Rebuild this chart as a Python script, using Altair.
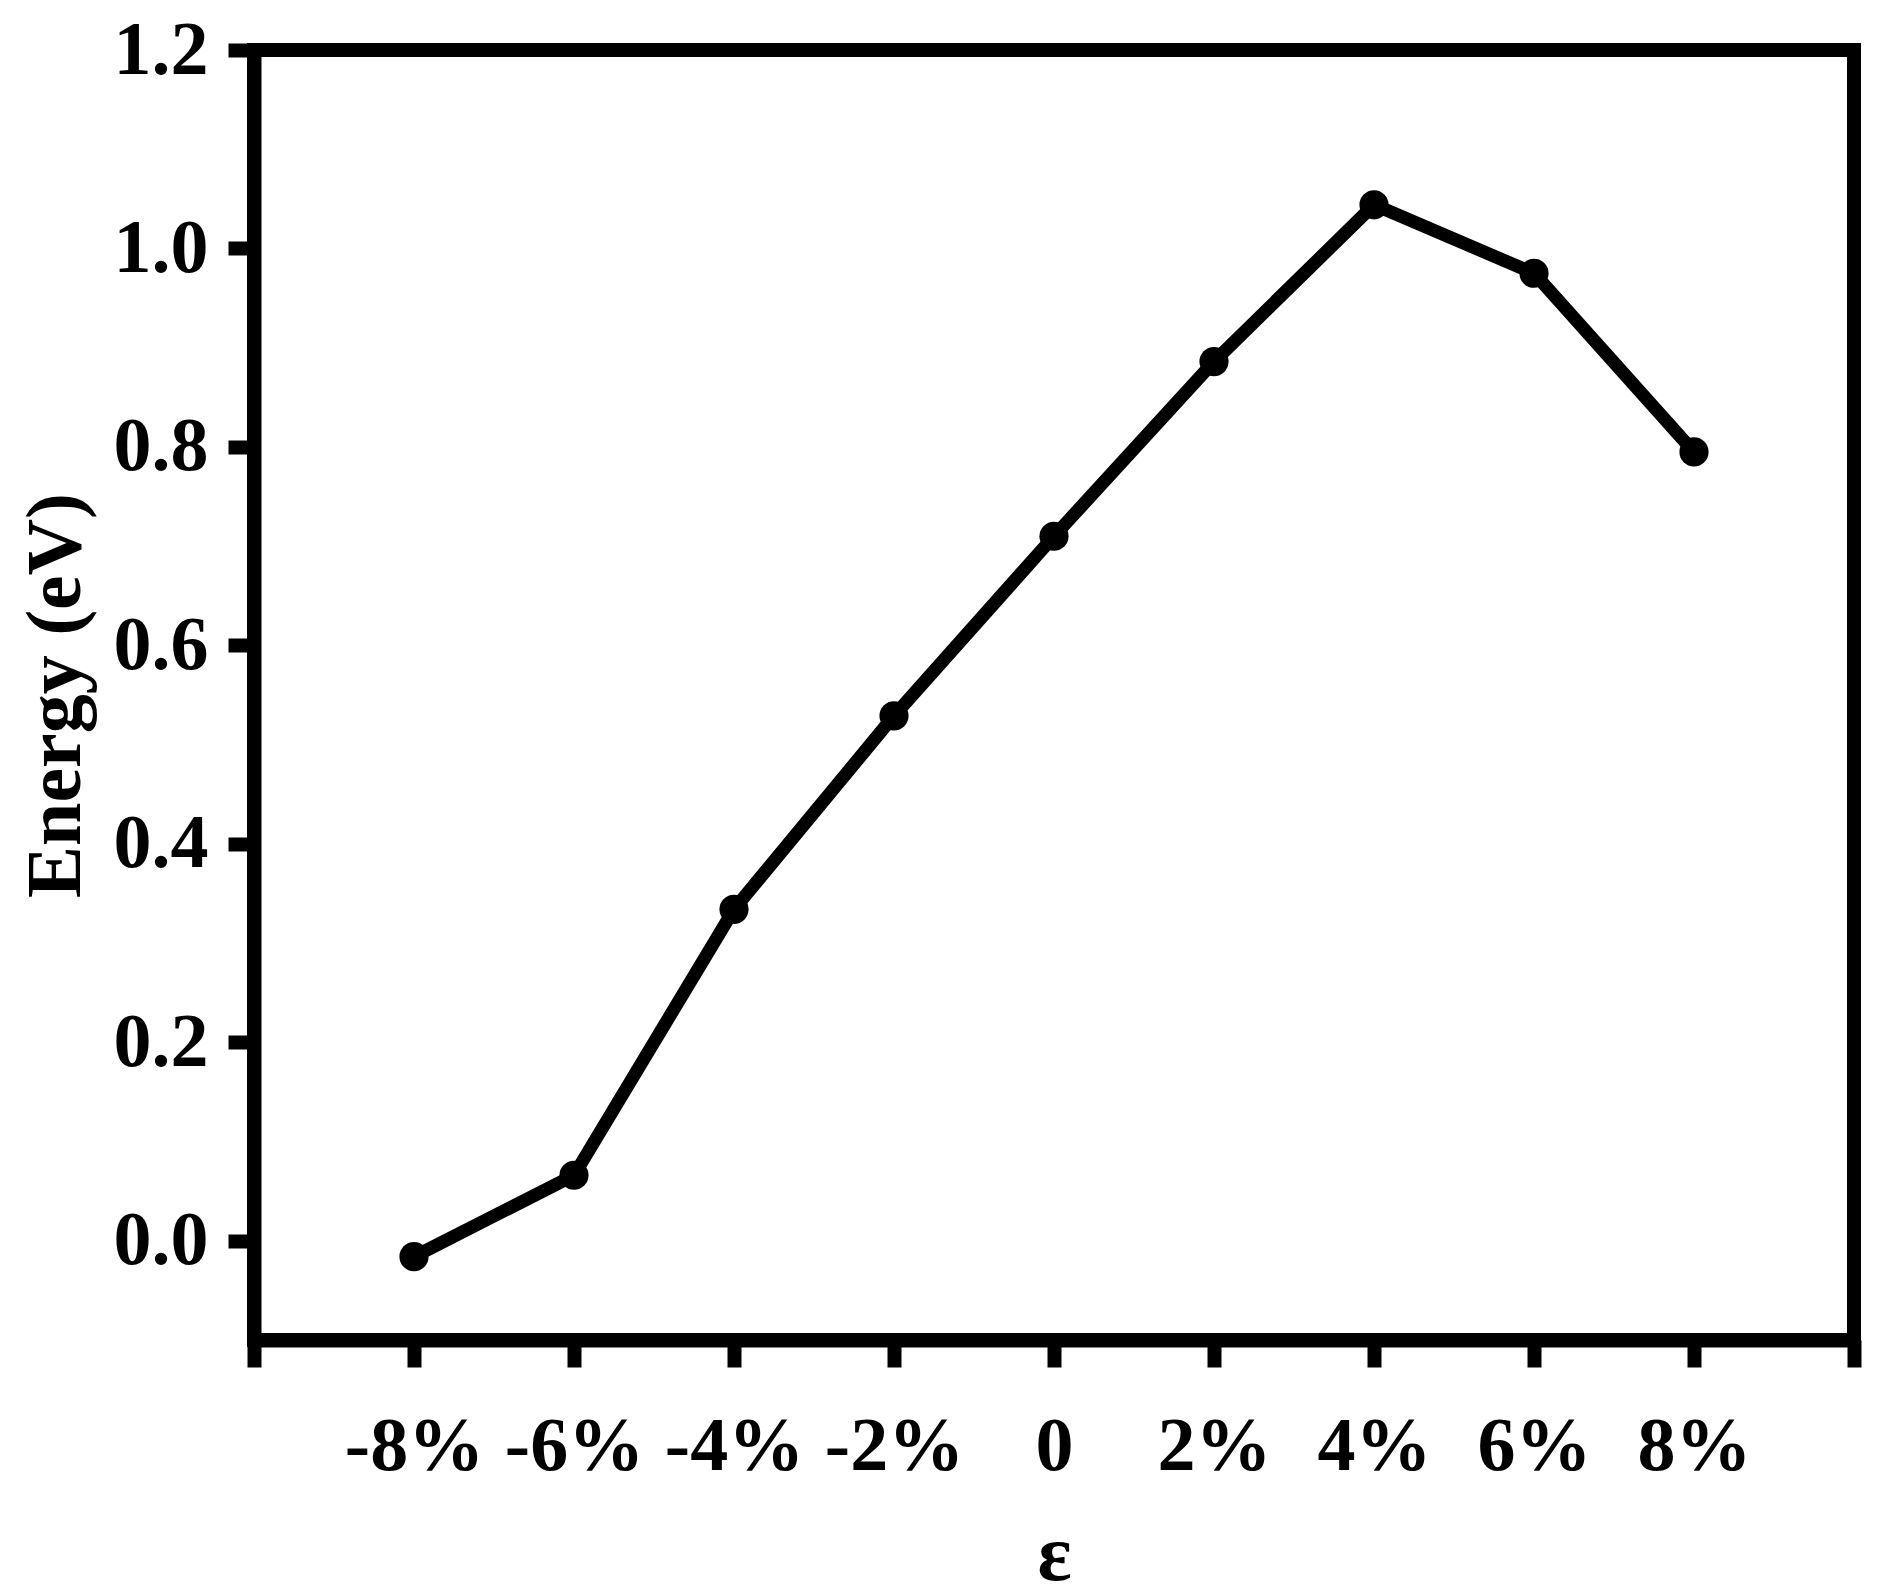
import altair as alt
import pandas as pd

strain = [-8, -6, -4, -2, 0, 2, 4, 6, 8]
energy = [-0.016, 0.066, 0.334, 0.529, 0.710, 0.886, 1.044, 0.975, 0.795]
x_ticks = [-10, -8, -6, -4, -2, 0, 2, 4, 6, 8, 10]
y_ticks = [0.0, 0.2, 0.4, 0.6, 0.8, 1.0, 1.2]

df = pd.DataFrame({"strain": strain, "energy": energy})

FONT = "Liberation Serif"

x = alt.X(
    "strain:Q",
    scale=alt.Scale(domain=[-10, 10], nice=False, zero=False),
    axis=alt.Axis(
        values=x_ticks,
        labelExpr="datum.value == 0 ? '0' : (abs(datum.value) == 10 ? '' : datum.value + '%')",
        title="ε",
        grid=False,
        domainColor="black",
        domainWidth=14,
        tickColor="black",
        tickWidth=14,
        tickSize=27,
        labelFont=FONT,
        labelFontSize=76,
        labelFontWeight="bold",
        labelColor="black",
        labelPadding=42,
        labelFlush=False,
        labelOverlap=False,
        titleFont=FONT,
        titleFontSize=80,
        titleFontWeight="bold",
        titleColor="black",
        titleBaseline="alphabetic",
        titlePadding=95,
    ),
)
y = alt.Y(
    "energy:Q",
    scale=alt.Scale(domain=[-0.1, 1.2], nice=False, zero=False),
    axis=alt.Axis(
        values=y_ticks,
        format=".1f",
        title="Energy (eV)",
        grid=False,
        domainColor="black",
        domainWidth=14,
        tickColor="black",
        tickWidth=14,
        tickSize=26,
        labelFont=FONT,
        labelFontSize=76,
        labelFontWeight="bold",
        labelColor="black",
        labelPadding=20,
        labelFlush=False,
        labelOverlap=False,
        titleFont=FONT,
        titleFontSize=78,
        titleFontWeight="bold",
        titleColor="black",
        titlePadding=18,
    ),
)

line = alt.Chart(df).mark_line(color="black", strokeWidth=13).encode(x=x, y=y)
pts = alt.Chart(df).mark_circle(color="black", size=850, opacity=1).encode(x="strain:Q", y="energy:Q")

chart = (
    alt.layer(line, pts)
    .properties(
        width=1600,
        height=1290,
        background="white",
        autosize=alt.AutoSizeParams(type="none"),
        padding={"left": 246, "top": 42, "right": 20, "bottom": 253},
    )
    .configure_view(stroke="black", strokeWidth=14)
)

chart.save("out.html", embed_options={"renderer": "svg", "actions": False})
